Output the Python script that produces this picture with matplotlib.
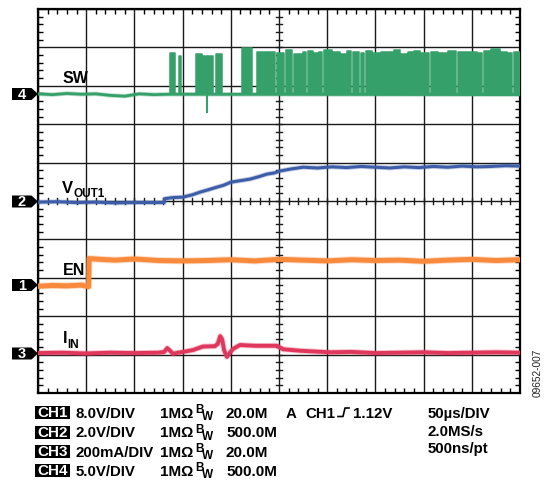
import numpy as np
import matplotlib.pyplot as plt
from matplotlib.ticker import MultipleLocator
from matplotlib.patches import Polygon, Rectangle
from matplotlib.lines import Line2D

plt.rcParams['font.family'] = ['Liberation Sans', 'DejaVu Sans']

# scope traces, x in divisions (50us/div), y in divisions from screen centre
sw_base = 2.78
sw_base_x = [0.0, 0.3, 0.6, 0.9, 1.2, 1.5, 1.8, 2.1, 2.4, 2.74, 10.0]
sw_base_y = [2.79, 2.77, 2.80, 2.78, 2.79, 2.75, 2.73, 2.79, 2.77, 2.78, 2.77]
sw_pulses = [(2.74, 2.85), (2.93, 2.97), (3.28, 3.40), (3.42, 3.51), (3.53, 3.63),
             (3.69, 3.82), (4.23, 4.44), (4.54, 4.75), (4.77, 4.92),
             (4.96, 5.11), (5.14, 5.28), (5.31, 5.47), (5.50, 5.57), (5.60, 5.70),
             (5.73, 5.80), (5.83, 5.90), (5.93, 6.09), (6.12, 6.26), (6.29, 6.38),
             (6.41, 6.50), (6.53, 6.67), (6.70, 6.77), (6.80, 6.92), (6.95, 7.09),
             (7.12, 7.21), (7.24, 7.36), (7.39, 7.50), (7.53, 7.65), (7.68, 7.77),
             (7.80, 7.92), (7.95, 8.12), (8.15, 8.29), (8.32, 8.48), (8.51, 8.68),
             (8.71, 8.85), (8.88, 9.10), (9.13, 9.22), (9.25, 9.37), (9.40, 9.58),
             (9.61, 9.72), (9.75, 9.84), (9.87, 10.0)]
sw_tops = [3.85, 3.78, 3.83, 3.78, 3.77, 3.83, 3.98, 3.87, 3.87,
           3.86, 3.92, 3.84, 3.88, 3.90, 3.85, 3.89, 3.93, 3.87, 3.84, 3.90,
           3.88, 3.86, 3.91, 3.85, 3.89, 3.87, 3.92, 3.84, 3.88, 3.90, 3.86,
           3.89, 3.85, 3.91, 3.87, 3.88, 3.86, 3.90, 3.96, 3.87, 3.85, 3.89]
sw_spike_x, sw_spike_low = 3.51, 2.32

vout_x = [0, 0.4, 0.8, 1.2, 1.6, 2.0, 2.3, 2.62, 2.63, 2.8, 3.0, 3.2, 3.36, 3.5,
          3.71, 3.85, 4.0, 4.2, 4.4, 4.6, 4.75, 4.9, 5.02, 5.23, 5.5, 5.8, 6.1,
          6.4, 6.7, 7.0, 7.3, 7.6, 7.9, 8.2, 8.5, 8.8, 9.1, 9.4, 9.7, 10.0]
vout_y = [-0.03, -0.02, -0.04, -0.03, -0.05, -0.04, -0.04, -0.04, 0.06, 0.09,
          0.10, 0.16, 0.23, 0.28, 0.36, 0.41, 0.49, 0.53, 0.57, 0.64, 0.70, 0.73,
          0.78, 0.83, 0.88, 0.86, 0.89, 0.87, 0.90, 0.88, 0.86, 0.89, 0.87, 0.90,
          0.88, 0.91, 0.89, 0.90, 0.92, 0.91]

en_x = [0, 0.3, 0.6, 0.9, 1.05, 1.06, 1.3, 1.6, 2.0, 2.5, 3.0, 3.5, 4.0, 4.5,
        5.0, 5.5, 6.0, 6.5, 7.0, 7.5, 8.0, 8.5, 9.0, 9.5, 10.0]
en_y = [-2.22, -2.20, -2.21, -2.19, -2.23, -1.50, -1.52, -1.54, -1.51, -1.55,
        -1.56, -1.55, -1.53, -1.56, -1.52, -1.54, -1.56, -1.53, -1.55, -1.54,
        -1.57, -1.54, -1.52, -1.55, -1.53]

iin_x = [0, 0.5, 1.0, 1.5, 2.0, 2.5, 2.62, 2.68, 2.74, 2.80, 2.9, 3.01, 3.22,
         3.42, 3.67, 3.73, 3.78, 3.82, 3.86, 3.92, 3.98, 4.05, 4.19, 4.5, 4.96,
         5.08, 5.44, 6.06, 6.5, 7.0, 7.5, 8.0, 8.5, 9.0, 9.5, 10.0]
iin_y = [-3.96, -3.95, -3.97, -3.95, -3.96, -3.95, -3.93, -3.83, -3.90, -3.98,
         -3.95, -3.93, -3.88, -3.79, -3.78, -3.72, -3.52, -3.60, -3.88, -4.06,
         -3.95, -3.85, -3.75, -3.77, -3.77, -3.86, -3.90, -3.94, -3.93, -3.96,
         -3.95, -3.94, -3.96, -3.95, -3.94, -3.95]

ch_markers = [("4", 95), ("2", 202.5), ("1", 286), ("3", 354.5)]
ch_rows = [("CH1", "8.0V/DIV", "20.0M"), ("CH2", "2.0V/DIV", "500.0M"),
           ("CH3", "200mA/DIV", "20.0M"), ("CH4", "5.0V/DIV", "500.0M")]
time_info = ["50µs/DIV", "2.0MS/s", "500ns/pt"]

c_sw, c_vout, c_en, c_iin = "#35a06a", "#3d5da8", "#f78a3c", "#e0385c"

W, H = 547, 481
fig = plt.figure(figsize=(W / 100, H / 100), dpi=100)
ax = fig.add_axes([38 / W, 1 - 394 / H, 482 / W, 384 / H])
ax.set_xlim(0, 10)
ax.set_ylim(-5, 5)

# graticule
ax.xaxis.set_major_locator(MultipleLocator(1))
ax.yaxis.set_major_locator(MultipleLocator(1))
ax.xaxis.set_minor_locator(MultipleLocator(0.2))
ax.yaxis.set_minor_locator(MultipleLocator(0.2))
ax.grid(which='major', color='#1a1a1a', lw=1.0)
ax.set_axisbelow(True)
ax.tick_params(which='major', length=0, labelbottom=False, labelleft=False)
ax.tick_params(which='minor', direction='in', length=3.5, width=1.0,
               top=True, right=True, bottom=True, left=True)
for s in ax.spines.values():
    s.set_linewidth(1.6)
for t in np.arange(0.2, 10, 0.2):
    ax.plot([t, t], [-0.07, 0.07], color='#1a1a1a', lw=1.0, zorder=1)
for t in np.arange(-4.8, 5, 0.2):
    ax.plot([4.94, 5.06], [t, t], color='#1a1a1a', lw=1.0, zorder=1)

# SW trace: baseline, then pulse blocks
ax.plot(sw_base_x, sw_base_y, color=c_sw, lw=3.2, alpha=0.35, zorder=3)
ax.plot(sw_base_x, sw_base_y, color=c_sw, lw=2.0, zorder=3)
xs, ys = [], []
for (s, e), top in zip(sw_pulses, sw_tops):
    xs += [s, s, e, e]
    ys += [sw_base, top, top, sw_base]
    ax.fill_between([s, e], sw_base, top, color=c_sw, lw=0, zorder=3)
ax.plot(xs, ys, color=c_sw, lw=1.1, zorder=3)
ax.plot([sw_spike_x, sw_spike_x], [sw_spike_low, sw_base], color=c_sw, lw=1.5, zorder=3)

# other channels, with a faint halo to mimic the scope trace fuzz
for tx, ty, col, lw in [(vout_x, vout_y, c_vout, 2.2), (en_x, en_y, c_en, 3.6),
                        (iin_x, iin_y, c_iin, 2.8)]:
    ax.plot(tx, ty, color=col, lw=lw + 1.3, alpha=0.3, zorder=3)
    ax.plot(tx, ty, color=col, lw=lw, zorder=3)


def fx(x):
    return x / W


def fy(y):
    return 1 - y / H


def label(x, y, s, size=11, color='black', **kw):
    fig.text(fx(x), fy(y), s, fontsize=size, fontweight='bold', color=color,
             va='baseline', **kw)


# trace labels
label(63, 83, "SW", size=11.5)
label(62, 193.5, "V", size=12)
label(73.5, 197.5, "OUT1", size=8.5)
label(63, 275, "EN", size=11.5)
label(63, 343, "I", size=11.5)
label(67.5, 348, "IN", size=8.5)

# channel markers
for num, c in ch_markers:
    pts = [(fx(12), fy(c - 6)), (fx(31.5), fy(c - 6)), (fx(38), fy(c)),
           (fx(31.5), fy(c + 6)), (fx(12), fy(c + 6))]
    fig.patches.append(Polygon(pts, closed=True, fc='black', ec='none',
                               transform=fig.transFigure))
    fig.text(fx(22), fy(c), num, fontsize=10.5, fontweight='bold', color='white',
             ha='center', va='center')

# bottom readout
box_tops = [407, 426.5, 446, 465]
for i, (ch, vdiv, bw) in enumerate(ch_rows):
    bt = box_tops[i]
    base = bt + 11
    fig.patches.append(Rectangle((fx(35), fy(bt + 13)), 35 / W, 13 / H,
                                 fc='black', ec='none', transform=fig.transFigure))
    fig.text(fx(52.5), fy(bt + 6.5), ch, fontsize=11, fontweight='bold',
             color='white', ha='center', va='center')
    label(76, base, vdiv, size=10.8)
    label(160, base, "1MΩ")
    label(195, base - 4.5, "B", size=8.5)
    label(202, base + 2.5, "W", size=8.5)
    label(226, base, bw)

label(286, 418, "A", size=10.8)
label(305, 418, "CH1", size=10.8)
label(353, 418, "1.12V", size=10.8)
fig.lines.append(Line2D([fx(338), fx(343), fx(345), fx(349)],
                        [fy(417.5), fy(417.5), fy(409), fy(409)],
                        color='black', lw=1.2, transform=fig.transFigure))
for y, s in zip([418, 436, 453.5], time_info):
    label(428, y, s, size=10.8)

fig.text(fx(538), fy(397), "09652-007", fontsize=7.3, rotation=90,
         ha='center', va='bottom', color='#222222')

fig.savefig("out.png", dpi=100)
